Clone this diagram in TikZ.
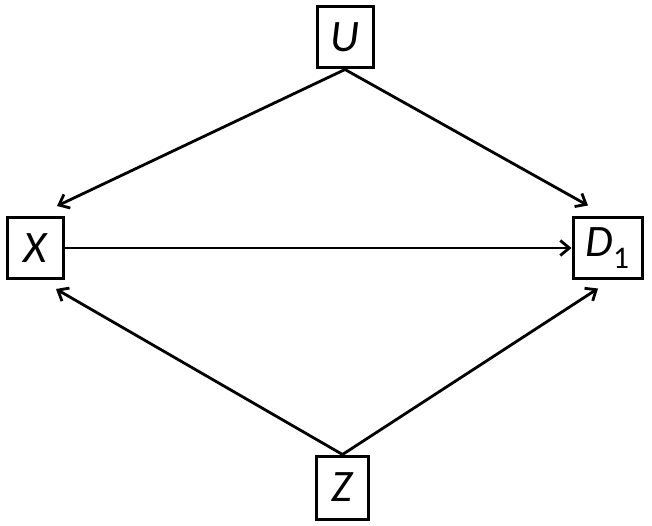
\documentclass[tikz,border=0pt]{standalone}
\usepackage{fontspec}
\setmainfont{Carlito}
\usetikzlibrary{arrows.meta}
\tikzset{
  var/.style={draw, line width=3pt, inner sep=0pt, minimum width=56pt, minimum height=61pt,
    font=\fontsize{45}{45}\selectfont\itshape},
  edge/.style={line width=2.8pt, -{Straight Barb[length=9pt,width=15pt,line width=2.8pt]}}
}
\begin{document}
\begin{tikzpicture}[x=1pt,y=-1pt]
\useasboundingbox (0,0) rectangle (652,526);
\node[var] (U) at (345,37.5) {U};
\node[var] (X) at (35,248) {X};
\node[var, minimum width=69pt, minimum height=60pt] (D) at (607.5,248) {D\textsubscript{\upshape 1}};
\node[var, minimum width=52pt, minimum height=63pt] (Z) at (342.5,487.5) {Z};
\draw[edge] (U.south) -- ([shift={(22,-10)}]X.north);
\draw[edge] (U.south) -- ([shift={(-19.5,-11)}]D.north);
\draw[edge] (X.east) -- (D.west);
\draw[edge] (Z.north) -- ([shift={(21,9)}]X.south);
\draw[edge] (Z.north) -- ([shift={(-9.5,9)}]D.south);
\end{tikzpicture}
\end{document}
